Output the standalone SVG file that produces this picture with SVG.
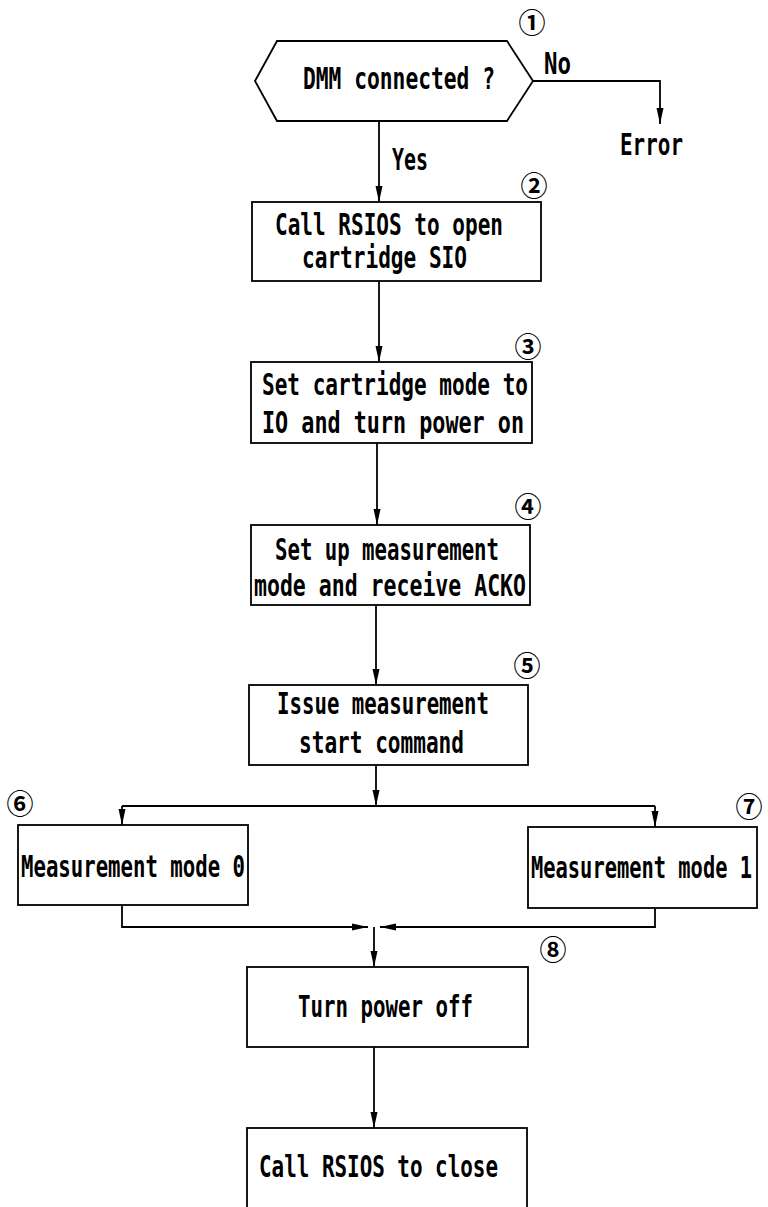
<svg xmlns="http://www.w3.org/2000/svg" width="768" height="1207" viewBox="0 0 768 1207">
<defs>
<style>
.t{font-family:"DejaVu Sans Mono","Liberation Mono",monospace;font-weight:bold;font-size:30px;fill:#000}
.n{font-family:"Noto Sans CJK JP","DejaVu Sans",sans-serif;font-weight:bold;font-size:27px;fill:#000;text-anchor:middle}
.b{fill:#fff;stroke:#000;stroke-width:1.8}
.c{fill:none;stroke:#000;stroke-width:1.8}
</style>
<marker id="ah" markerUnits="userSpaceOnUse" markerWidth="16" markerHeight="8" refX="16" refY="4" orient="auto">
<path d="M0,0.5 L16,4 L0,7.5 z" fill="#000"/>
</marker>
</defs>
<rect width="768" height="1207" fill="#fff"/>
<g id="connectors">
<path class="c" d="M379,121 V202" marker-end="url(#ah)"/>
<path class="c" d="M533,81 H660 V124" marker-end="url(#ah)"/>
<path class="c" d="M379,281 V362" marker-end="url(#ah)"/>
<path class="c" d="M377,443 V525" marker-end="url(#ah)"/>
<path class="c" d="M376,605 V685" marker-end="url(#ah)"/>
<path class="c" d="M376,765 V806" marker-end="url(#ah)"/>
<path class="c" d="M122,806 H655"/>
<path class="c" d="M122,806 V825" marker-end="url(#ah)"/>
<path class="c" d="M655,806 V827" marker-end="url(#ah)"/>
<path class="c" d="M122,905 V927 H368" marker-end="url(#ah)"/>
<path class="c" d="M655,908 V927 H380" marker-end="url(#ah)"/>
<path class="c" d="M374,927 V967" marker-end="url(#ah)"/>
<path class="c" d="M374,1047 V1128" marker-end="url(#ah)"/>
<text class="t" x="392" y="170" textLength="36" lengthAdjust="spacingAndGlyphs">Yes</text>
<text class="t" x="544" y="74" textLength="27" lengthAdjust="spacingAndGlyphs">No</text>
<text class="t" x="620" y="155" textLength="63" lengthAdjust="spacingAndGlyphs">Error</text>
</g>
<g id="n1">
<polygon class="b" points="255,81 277,41 507,41 533,81 507,121 277,121"/>
<text class="t" x="303" y="89" textLength="192" lengthAdjust="spacingAndGlyphs">DMM connected ?</text>
<text class="n" x="532" y="33">①</text>
</g>
<g id="n2">
<rect class="b" x="252" y="202" width="289" height="79"/>
<text class="t" x="275" y="235" textLength="228" lengthAdjust="spacingAndGlyphs">Call RSIOS to open</text>
<text class="t" x="302" y="268" textLength="165" lengthAdjust="spacingAndGlyphs">cartridge SIO</text>
<text class="n" x="534" y="196">②</text>
</g>
<g id="n3">
<rect class="b" x="251" y="362" width="281" height="81"/>
<text class="t" x="262" y="395" textLength="266" lengthAdjust="spacingAndGlyphs">Set cartridge mode to</text>
<text class="t" x="262" y="433" textLength="262" lengthAdjust="spacingAndGlyphs">IO and turn power on</text>
<text class="n" x="528" y="357">③</text>
</g>
<g id="n4">
<rect class="b" x="251" y="525" width="279" height="80"/>
<text class="t" x="275" y="560" textLength="224" lengthAdjust="spacingAndGlyphs">Set up measurement</text>
<text class="t" x="254" y="596" textLength="272" lengthAdjust="spacingAndGlyphs">mode and receive ACKO</text>
<text class="n" x="528" y="517">④</text>
</g>
<g id="n5">
<rect class="b" x="249" y="685" width="279" height="80"/>
<text class="t" x="277" y="714" textLength="212" lengthAdjust="spacingAndGlyphs">Issue measurement</text>
<text class="t" x="299" y="753" textLength="165" lengthAdjust="spacingAndGlyphs">start command</text>
<text class="n" x="527" y="676">⑤</text>
</g>
<g id="n6">
<rect class="b" x="18" y="825" width="230" height="80"/>
<text class="t" x="21" y="877" textLength="224" lengthAdjust="spacingAndGlyphs">Measurement mode 0</text>
<text class="n" x="20" y="814">⑥</text>
</g>
<g id="n7">
<rect class="b" x="528" y="827" width="229" height="81"/>
<text class="t" x="531" y="878" textLength="221" lengthAdjust="spacingAndGlyphs">Measurement mode 1</text>
<text class="n" x="749" y="817">⑦</text>
</g>
<g id="n8">
<rect class="b" x="247" y="967" width="281" height="80"/>
<text class="t" x="298" y="1017" textLength="175" lengthAdjust="spacingAndGlyphs">Turn power off</text>
<text class="n" x="553" y="960">⑧</text>
</g>
<g id="n9">
<rect class="b" x="247" y="1128" width="280" height="100"/>
<text class="t" x="259" y="1177" textLength="239" lengthAdjust="spacingAndGlyphs">Call RSIOS to close</text>
</g>
</svg>
